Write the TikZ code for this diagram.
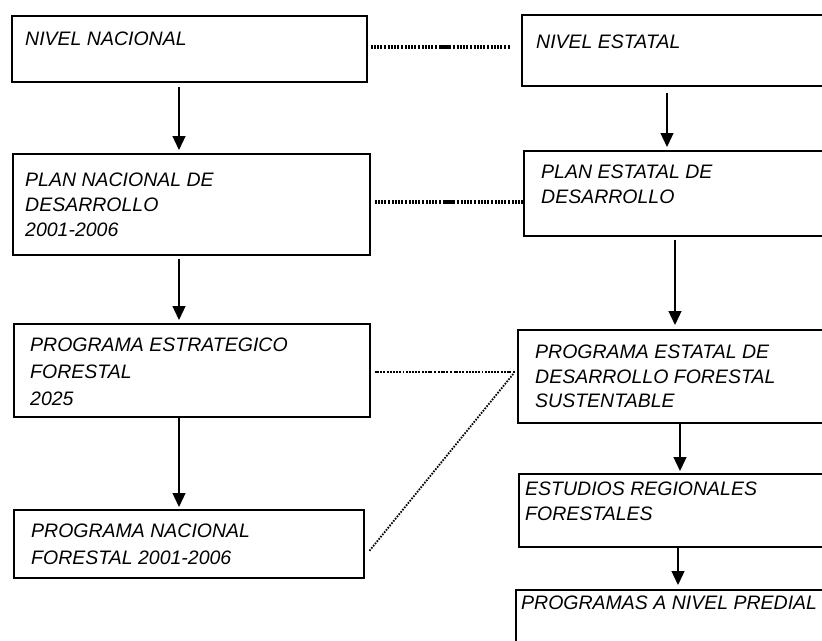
\documentclass[tikz,border=0pt]{standalone}
\usepackage{fontspec}
\setmainfont{Liberation Sans}
\usetikzlibrary{arrows.meta,calc}
\begin{document}
\begin{tikzpicture}[x=1pt,y=-1pt,
  box/.style={draw, line width=1.5pt, rectangle, inner sep=0pt, anchor=north west},
  txt/.style={anchor=north west, inner sep=0pt, align=left, font={\fontsize{19.5}{25}\selectfont\itshape}},
  txtb/.style={txt, font={\fontsize{19.5}{27}\selectfont\itshape}},
  txtc/.style={txt, font={\fontsize{19.5}{24.5}\selectfont\itshape}},
  arr/.style={line width=1.3pt, -{Triangle[width=13pt,length=14pt]}},
  thickdot/.style={line width=3.2pt, dash pattern=on 2.2pt off 0.8pt on 2.2pt off 0.8pt on 2.2pt off 0.8pt on 2.2pt off 2pt on 2pt off 2pt},
  meddot/.style={line width=2.4pt, dash pattern=on 2pt off 0.8pt on 2pt off 0.8pt on 2pt off 0.8pt on 2pt off 1.8pt on 1.8pt off 1.8pt},
  thindot/.style={line width=1.8pt, dash pattern=on 1.6pt off 1.3pt}
]
\useasboundingbox (0,0) rectangle (822,640);
\clip (0,0) rectangle (822,640);
\fill[white] (0,0) rectangle (822,640);

% left column boxes
\node[box, minimum width=355pt, minimum height=66pt] (n1) at (11,15) {};
\node[box, minimum width=357pt, minimum height=101pt] (n2) at (12,153) {};
\node[box, minimum width=356pt, minimum height=93pt] (n3) at (13,323) {};
\node[box, minimum width=350pt, minimum height=68pt] (n4) at (13,509) {};

% right column boxes (cut at the right edge)
\node[box, minimum width=330pt, minimum height=71pt] (s1) at (521,14) {};
\node[box, minimum width=330pt, minimum height=85pt] (s2) at (523,150) {};
\node[box, minimum width=330pt, minimum height=93pt] (s3) at (517,329) {};
\node[box, minimum width=330pt, minimum height=73pt] (s4) at (518,473) {};
\node[box, minimum width=330pt, minimum height=80pt] (s5) at (515,589) {};

% texts
\node[txt] (t1) at (25,32) {NIVEL NACIONAL};
\node[txt] (t2) at (25,173) {PLAN NACIONAL DE\\DESARROLLO\\2001-2006};
\node[txtb] (t3) at (30,338) {PROGRAMA ESTRATEGICO\\FORESTAL\\2025};
\node[txtb] (t4) at (31,524) {PROGRAMA NACIONAL\\FORESTAL 2001-2006};
\node[txt] (u1) at (536,35) {NIVEL ESTATAL};
\node[txt] (u2) at (541,165) {PLAN ESTATAL DE\\DESARROLLO};
\node[txtc] (u3) at (535,345) {PROGRAMA ESTATAL DE\\DESARROLLO FORESTAL\\SUSTENTABLE};
\node[txtc] (u4) at (525,482) {ESTUDIOS REGIONALES\\FORESTALES};
\node[txt] (u5) at (521,596) {PROGRAMAS A NIVEL PREDIAL};

% arrow x positions
\coordinate (xa) at (179,0);
\coordinate (xb1) at (667,0);
\coordinate (xb2) at (675,0);
\coordinate (xb3) at (680,0);
\coordinate (xb4) at (678,0);

\draw[arr, shorten <=4pt, shorten >=3pt] (n1.south -| xa) -- (n2.north -| xa);
\draw[arr, shorten <=3pt, shorten >=3pt] (n2.south -| xa) -- (n3.north -| xa);
\draw[arr, shorten >=2pt] (n3.south -| xa) -- (n4.north -| xa);
\draw[arr, shorten <=6pt, shorten >=3pt] (s1.south -| xb1) -- (s2.north -| xb1);
\draw[arr, shorten <=3pt, shorten >=4pt] (s2.south -| xb2) -- (s3.north -| xb2);
\draw[arr, shorten >=2pt] (s3.south -| xb3) -- (s4.north -| xb3);
\draw[arr, shorten >=4pt] (s4.south -| xb4) -- (s5.north -| xb4);

% dotted links
\coordinate (y1) at (0,47);
\coordinate (y2) at (0,202);
\coordinate (y3) at (0,372);
\draw[thickdot, shorten <=3pt, shorten >=11pt] (n1.east |- y1) -- (s1.west |- y1);
\draw[thickdot, shorten <=4pt] (n2.east |- y2) -- (s2.west |- y2);
\draw[meddot, shorten <=4pt] (n3.east |- y3) -- (s3.west |- y3);
\draw[thindot] ($(n4.east)+(5,7)$) -- ($(s3.west |- y3)+(-3,1)$);
\end{tikzpicture}
\end{document}
